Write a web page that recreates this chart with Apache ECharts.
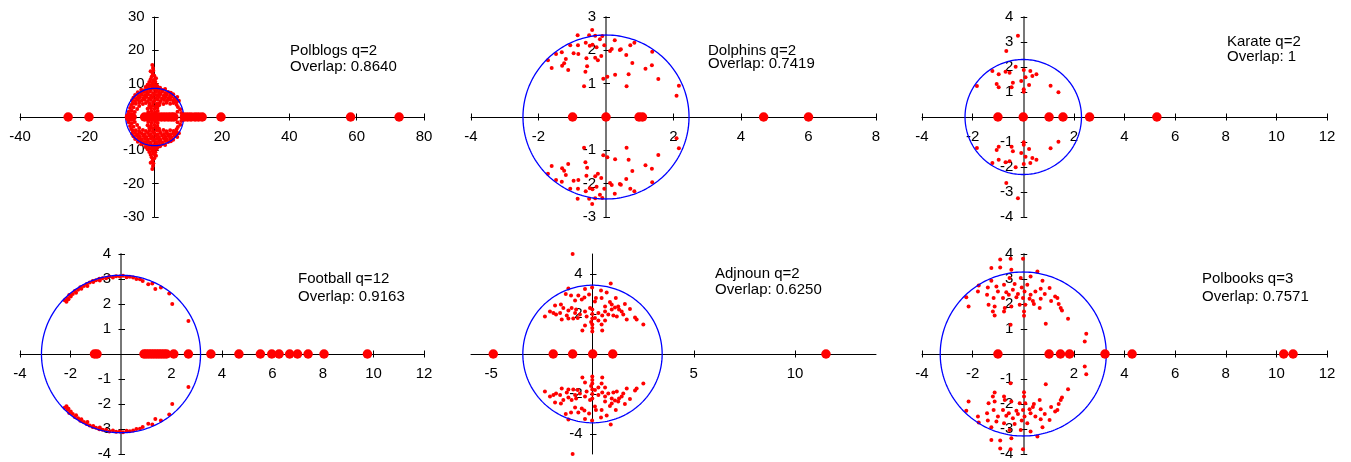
<!DOCTYPE html>
<html><head><meta charset="utf-8">
<script src="https://cdn.jsdelivr.net/npm/echarts@6/dist/echarts.min.js"></script>
<style>html,body{margin:0;padding:0;background:#fff}#c{width:1351px;height:462px}</style>
</head><body><div id="c"></div>
<script>
// ---------- DATA ----------
const panelTitles = ['Polblogs q=2', 'Dolphins q=2', 'Karate q=2', 'Football q=12', 'Adjnoun q=2', 'Polbooks q=3'];
const overlapTexts = ['Overlap: 0.8640', 'Overlap: 0.7419', 'Overlap: 1', 'Overlap: 0.9163', 'Overlap: 0.6250', 'Overlap: 0.7571'];
const circleRadii = [8.6, 2.46, 2.3, 3.15, 3.44, 3.28];

const polblogsXTicks = [-40, -20, 20, 40, 60, 80];
const polblogsYTicks = [-30, -20, -10, 10, 20, 30];
const dolphinsXTicks = [-4, -2, 2, 4, 6, 8];
const dolphinsYTicks = [-3, -2, -1, 1, 2, 3];
const karateXTicks = [-4, -2, 2, 4, 6, 8, 10, 12];
const karateYTicks = [-4, -3, -2, -1, 1, 2, 3, 4];
const footballXTicks = [-4, -2, 2, 4, 6, 8, 10, 12];
const footballYTicks = [-4, -3, -2, -1, 1, 2, 3, 4];
const adjnounXTicks = [-5, 5, 10];
const adjnounYTicks = [-4, -2, 2, 4];
const polbooksXTicks = [-4, -2, 2, 4, 6, 8, 10, 12];
const polbooksYTicks = [-4, -3, -2, -1, 1, 2, 3, 4];

// real eigenvalues (large dots on the real axis)
const polblogsReal = [-25.7, -19.5, -7.5, -6.7, -3.0, -2.0, -1.0, 0, 1.0, 2.0, 3.0, 4.0, 4.9, 5.7, 8.8, 9.8, 10.8, 12.0, 13.0, 14.1, 19.7, 58.2, 72.6];
const dolphinsReal = [-0.99, 0, 0.98, 1.08, 4.67, 6.0];
const karateReal = [-1.0, 0, 1.02, 1.57, 2.62, 5.28];
const footballReal = [-1.05, -0.95, 0.91, 1.0, 1.1, 1.2, 1.3, 1.4, 1.5, 1.6, 1.7, 1.8, 2.09, 2.67, 3.56, 4.67, 5.52, 5.97, 6.26, 6.68, 6.99, 7.41, 8.04, 9.76];
const adjnounReal = [-4.90, -1.94, -0.98, 0.01, 1.0, 11.53];
const polbooksReal = [-1.0, 1.02, 1.47, 1.83, 3.23, 4.30, 10.29, 10.66];

// complex eigenvalues, upper half-plane (each has a conjugate partner below)
const polblogsComplexUpper = [
[-7.7,1.6],[-6.8,1.9],[-5.9,1.5],[-7.3,2.7],[-6.3,2.9],[-5.2,2.4],[-4.6,3.3],[-7.0,3.6],
[-1.9,1.5],[-0.9,1.7],[0.1,1.4],[0.9,1.8],[-2.1,2.5],[-1.1,2.6],[-0.1,2.4],[0.8,2.7],[-1.6,3.3],[-0.6,3.4],[0.4,3.2],[1.3,3.5],
[6.8,1.6],[7.6,2.3],[6.9,3.0],[7.9,1.2],[6.5,3.7],
[-6.5,4.1],[-5.6,4.0],[-4.6,4.3],[-3.5,3.9],[-2.6,4.2],[-1.5,4.0],[-0.5,4.3],[0.6,4.0],[1.5,4.2],[2.6,3.9],[3.5,4.3],[4.6,4.0],[5.6,4.2],[6.5,4.6],
[-6.7,5.0],[-5.8,4.8],[-4.9,5.1],[-3.9,4.9],[-3.0,5.2],[-2.0,4.8],[-1.1,5.1],[-0.1,4.9],[0.9,5.2],[1.8,4.8],[2.8,5.1],[3.7,4.9],[4.6,5.2],[5.5,4.9],[6.4,5.3],[7.2,4.9],
[-6.3,5.8],[-5.3,5.6],[-4.4,5.9],[-3.4,5.7],[-2.5,6.0],[-1.6,5.6],[-0.6,5.9],[0.4,5.7],[1.3,6.0],[2.2,5.6],[3.2,5.9],[4.1,5.7],[5.0,6.0],[5.9,5.7],[6.7,6.0],
[-5.8,6.6],[-4.8,6.4],[-3.9,6.7],[-2.9,6.5],[-2.0,6.8],[-1.1,6.4],[-0.1,6.7],[0.8,6.5],[1.7,6.8],[2.7,6.4],[3.6,6.7],[4.6,6.5],[5.5,6.8],
[-5.0,7.4],[-4.1,7.2],[-3.2,7.5],[-2.3,7.3],[-1.4,7.6],[-0.5,7.2],[0.4,7.5],[1.3,7.3],[2.2,7.6],[3.1,7.2],[4.0,7.5],[4.8,7.3],
[-4.0,8.2],[-3.1,8.0],[-2.2,8.3],[-1.3,8.1],[-0.4,8.4],[0.5,8.0],[1.4,8.3],[2.3,8.1],[3.1,8.4],
[-2.7,9.0],[-1.8,8.8],[-0.9,9.2],[0.0,8.9],[0.9,9.1],[1.6,8.8],[-2.1,9.7],[-1.2,9.5],[-0.3,9.8],[0.6,9.6],
[-1.6,10.5],[-0.7,10.3],[0.2,10.6],[-1.2,11.3],[-0.3,11.1],[0.4,11.6],[-0.9,12.1],[-0.1,12.4],[-0.6,13.0],[-1.2,13.7],[-0.4,13.9],[-0.5,14.7],[-0.7,15.6]
];
const dolphinsComplexUpper = [
[-0.41,2.61],[-0.84,2.45],[-0.50,2.45],[-0.32,2.44],[-0.11,2.43],[-1.06,2.15],[-0.83,2.15],[-0.60,2.23],[-0.48,2.14],[-0.40,2.17],
[-0.28,2.09],[-0.18,2.33],[-0.05,2.15],[0.26,2.30],[0.17,2.04],[0.12,1.98],[0.41,2.01],[0.44,2.03],[0.72,2.15],[0.84,2.23],
[0.60,1.86],[1.37,1.96],[-1.72,1.70],[-1.48,1.89],[-1.31,1.94],[-1.61,1.47],[-1.19,1.74],[-1.24,1.61],[-1.30,1.54],[-1.12,1.41],
[-0.96,1.91],[-0.82,1.89],[-0.58,1.76],[-0.32,1.78],[-0.24,1.70],[-0.14,1.83],[-0.56,1.52],[-0.61,1.36],[-0.65,0.92],[-0.08,1.15],
[0.04,1.21],[0.27,1.27],[0.61,0.92],[0.67,1.28],[0.78,1.62],[1.17,1.45],[1.36,1.55],[1.55,1.14],[2.16,0.94],[2.09,0.64]
];
const karateComplexUpper = [
[-0.21,3.25],[-0.67,2.64],[-0.30,2.01],[0.02,1.88],[-1.22,1.84],[-0.97,1.71],[-0.70,1.81],[-0.54,1.77],[0.28,1.84],[0.52,1.71],
[0.36,1.64],[0.09,1.59],[-0.08,1.44],[-0.41,1.37],[-1.05,1.32],[-0.97,1.19],[-1.83,1.24],[-0.46,1.19],[0.23,1.28],[0.02,1.11],
[0.02,1.01],[1.08,1.25],[1.39,0.99]
];
const footballComplexUpper = [
[-2.23,2.15],[-2.16,2.09],[-2.12,2.23],[-2.08,2.19],[-2.05,2.36],[-1.99,2.30],[-1.91,2.40],[-1.83,2.52],[-1.78,2.45],[-1.70,2.57],
[-1.61,2.67],[-1.57,2.61],[-1.47,2.72],[-1.36,2.80],[-1.33,2.72],[-1.24,2.86],[-1.10,2.88],[-1.12,2.92],[-0.99,2.95],[-0.84,2.94],
[-0.86,3.01],[-0.73,3.03],[-0.59,3.03],[-0.46,3.10],[-0.32,3.06],[-0.19,3.11],[-0.05,3.10],[0.08,3.13],[0.22,3.07],[0.35,3.09],
[0.48,3.06],[0.61,3.00],[0.75,2.99],[0.86,2.92],
[1.08,2.79],[1.24,2.82],[1.36,2.60],[1.58,2.66],[1.91,2.42],[2.03,2.00],[2.67,1.32]
];
const adjnounComplexUpper = [
[-0.98,5.0],[0.90,3.52],[-1.19,3.28],[-0.37,3.25],[-0.02,3.33],[-1.32,3.00],[-1.06,2.93],[-0.70,2.93],[-0.17,2.97],[0.17,2.80],
[0.45,2.80],[0.70,3.08],[0.42,3.17],[-0.53,2.72],[-0.86,2.67],[-0.40,2.83],[0.86,2.60],[1.15,2.80],[0.12,2.63],[0.62,2.38],
[0.95,2.47],[1.11,2.33],[1.31,2.22],[1.60,2.50],[1.85,2.25],[2.10,1.83],[2.51,1.47],[2.18,1.72],[1.69,1.72],[-1.85,2.43],
[-1.56,2.47],[-2.10,2.13],[-2.35,1.88],[-1.93,2.05],[-1.60,2.05],[-1.19,2.17],[-1.27,1.92],[-1.03,2.30],[-0.81,2.22],[-0.62,1.97],
[-0.37,2.13],[-0.29,1.88],[-0.12,2.30],[-0.01,2.00],[-0.01,1.77],[-0.01,1.47],[-0.01,1.13],[-0.07,1.60],[0.12,1.80],[0.29,2.05],
[0.48,1.93],[0.62,2.13],[0.78,1.97],[1.03,1.93],[1.20,1.88],[1.44,2.13],[1.52,1.97],[0.45,1.47],[0.48,1.17],[0.29,1.67],
[-0.50,1.17],[-0.37,1.43],[-0.73,1.80],[-0.86,2.05],[-1.44,2.30],[-1.80,1.97],[-1.52,1.72],[-1.19,1.77],[-0.95,1.77],[-0.01,2.22],
[0.62,1.67],[0.95,2.22],[1.27,2.38],[-0.01,1.30]
];
const polbooksComplexUpper = [
[-0.50,3.81],[-0.01,3.81],[-0.91,3.78],[-1.26,3.44],[-0.91,3.46],[-0.47,3.37],[0.56,3.30],[-0.10,3.04],[0.29,3.10],[-0.54,3.04],
[-1.26,2.93],[0.76,2.93],[-1.76,2.74],[-1.40,2.66],[-1.06,2.70],[-0.76,2.77],[-0.34,2.80],[-0.06,2.66],[0.16,2.77],[0.69,2.61],
[1.04,2.64],[-1.79,2.50],[-1.43,2.37],[-1.00,2.50],[-0.67,2.47],[-0.41,2.57],[-0.21,2.40],[0.05,2.50],[0.29,2.37],[0.48,2.50],
[0.85,2.40],[1.26,2.30],[1.35,2.24],[-2.25,2.27],[-1.17,2.24],[-0.80,2.24],[-0.57,2.37],[-0.27,2.27],[-0.01,2.24],[0.25,2.21],
[0.38,2.12],[0.69,2.21],[1.10,2.12],[1.40,2.00],[-2.16,1.90],[-1.37,1.97],[-1.13,1.90],[-0.73,1.84],[-0.47,1.90],[-0.14,1.97],
[0.08,1.97],[0.42,2.00],[0.65,1.84],[1.48,1.84],[1.53,1.74],[-1.20,1.70],[-0.76,1.70],[0.03,1.70],[0.03,1.53],[-1.13,1.54],
[1.77,1.41],[-0.50,1.17],[0.89,1.21],[2.49,0.81],[2.43,0.50]
];

// ---------- CHART ----------
const FONT = '"Liberation Sans", Arial, Helvetica, sans-serif';
const panels = [
  {cx: polblogsComplexUpper, re: polblogsReal, xr: [-40, 80], yr: [-30, 30], xt: polblogsXTicks, yt: polblogsYTicks, grid: {left: 20, top: 17, width: 404, height: 200}, small: 4, yGray: false, tx: 290, ty: [51, 67]},
  {cx: dolphinsComplexUpper, re: dolphinsReal, xr: [-4, 8], yr: [-3, 3], xt: dolphinsXTicks, yt: dolphinsYTicks, grid: {left: 471, top: 17, width: 405, height: 200}, small: 4, yGray: true, tx: 708, ty: [51, 64]},
  {cx: karateComplexUpper, re: karateReal, xr: [-4, 12], yr: [-4, 4], xt: karateXTicks, yt: karateYTicks, grid: {left: 922, top: 17, width: 405, height: 200}, small: 4, yGray: true, tx: 1227, ty: [42, 57]},
  {cx: footballComplexUpper, re: footballReal, xr: [-4, 12], yr: [-4, 4], xt: footballXTicks, yt: footballYTicks, grid: {left: 20, top: 254, width: 404, height: 200}, small: 4, yGray: true, tx: 298, ty: [279, 297]},
  {cx: adjnounComplexUpper, re: adjnounReal, xr: [-6, 14], yr: [-5, 5], xt: adjnounXTicks, yt: adjnounYTicks, grid: {left: 471, top: 254, width: 405, height: 200}, small: 4, yGray: false, tx: 715, ty: [274, 290]},
  {cx: polbooksComplexUpper, re: polbooksReal, xr: [-4, 12], yr: [-4, 4], xt: polbooksXTicks, yt: polbooksYTicks, grid: {left: 922, top: 254, width: 405, height: 200}, small: 4, yGray: true, tx: 1202, ty: [279, 297]}
];

const grids = [], xAxes = [], yAxes = [], series = [], graphics = [];
panels.forEach((p, i) => {
  grids.push(Object.assign({containLabel: false}, p.grid));
  // place the axes through the origin by offsetting them into the grid
  const xOffset = -p.grid.height * (0 - p.yr[0]) / (p.yr[1] - p.yr[0]);
  const yOffset = -p.grid.width * (0 - p.xr[0]) / (p.xr[1] - p.xr[0]);
  const yCol = p.yGray ? '#777' : '#000';
  const xIdx = xAxes.length, yIdx = yAxes.length;
  // main axes (line, outward ticks, labels)
  xAxes.push({
    gridIndex: i, type: 'value', min: p.xr[0], max: p.xr[1], position: 'bottom', offset: xOffset,
    axisLine: {onZero: false, lineStyle: {color: '#000', width: 1}},
    axisTick: {show: true, length: 3.5, customValues: p.xt, lineStyle: {color: '#000'}},
    axisLabel: {customValues: p.xt, margin: 12, fontSize: 15, color: '#000', fontFamily: FONT},
    splitLine: {show: false}
  });
  yAxes.push({
    gridIndex: i, type: 'value', min: p.yr[0], max: p.yr[1], position: 'left', offset: yOffset,
    axisLine: {onZero: false, lineStyle: {color: yCol, width: p.yGray ? 2 : 1}},
    axisTick: {show: true, inside: true, length: 4, customValues: p.yt, lineStyle: {color: '#000'}},
    axisLabel: {customValues: p.yt, margin: 10, fontSize: 15, color: '#000', fontFamily: FONT},
    splitLine: {show: false}
  });
  // companion axes: only the other half of each crossing tick
  xAxes.push({
    gridIndex: i, type: 'value', min: p.xr[0], max: p.xr[1], position: 'bottom', offset: xOffset,
    axisLine: {show: false, onZero: false},
    axisTick: {show: true, inside: true, length: 3.5, customValues: p.xt, lineStyle: {color: '#000'}},
    axisLabel: {show: false}, splitLine: {show: false}
  });
  yAxes.push({
    gridIndex: i, type: 'value', min: p.yr[0], max: p.yr[1], position: 'left', offset: yOffset,
    axisLine: {show: false, onZero: false},
    axisTick: {show: true, inside: false, length: 2.5, customValues: p.yt, lineStyle: {color: '#000'}},
    axisLabel: {show: false}, splitLine: {show: false}
  });
  const complexAll = p.cx.concat(p.cx.map(([x, y]) => [x, -y]));
  series.push({
    type: 'scatter', xAxisIndex: xIdx, yAxisIndex: yIdx, data: complexAll,
    symbol: 'circle', symbolSize: p.small, itemStyle: {color: '#ff0000', opacity: 1}, clip: false, z: 2, silent: true
  });
  series.push({
    type: 'custom', xAxisIndex: xIdx, yAxisIndex: yIdx, data: [[0, 0, circleRadii[i]]],
    encode: {x: 0, y: 1}, clip: false, z: 3, silent: true,
    renderItem: function (params, api) {
      const r = api.value(2);
      const c = api.coord([0, 0]);
      const rx = api.coord([r, 0])[0] - c[0];
      const ry = c[1] - api.coord([0, r])[1];
      const pts = [];
      for (let k = 0; k <= 240; k++) {
        const t = k / 240 * 2 * Math.PI;
        pts.push([c[0] + rx * Math.cos(t), c[1] - ry * Math.sin(t)]);
      }
      return {type: 'polyline', shape: {points: pts}, style: {stroke: '#0000ff', lineWidth: 1.3, fill: 'none'}};
    }
  });
  series.push({
    type: 'scatter', xAxisIndex: xIdx, yAxisIndex: yIdx, data: p.re.map(v => [v, 0]),
    symbol: 'circle', symbolSize: 9.5, itemStyle: {color: '#ff0000', opacity: 1}, clip: false, z: 4, silent: true
  });
  graphics.push({type: 'text', x: p.tx, y: p.ty[0], style: {text: panelTitles[i], font: '15px ' + FONT, fill: '#000', verticalAlign: 'middle'}});
  graphics.push({type: 'text', x: p.tx, y: p.ty[1], style: {text: overlapTexts[i], font: '15px ' + FONT, fill: '#000', verticalAlign: 'middle'}});
});

const chart = echarts.init(document.getElementById('c'), null, {renderer: 'canvas'});
chart.setOption({
  animation: false,
  backgroundColor: '#fff',
  grid: grids, xAxis: xAxes, yAxis: yAxes, series: series,
  graphic: {elements: graphics}
});
</script>
</body></html>
